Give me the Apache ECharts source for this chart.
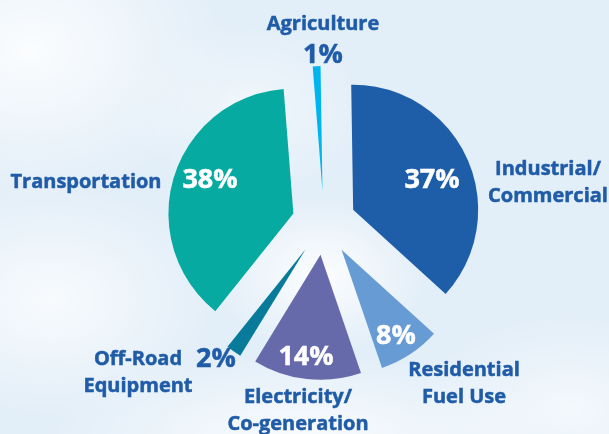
<!DOCTYPE html>
<html>
<head>
<meta charset="utf-8">
<script src="https://cdn.jsdelivr.net/npm/echarts@6/dist/echarts.min.js"></script>
<style>
  html, body { margin: 0; padding: 0; }
  body {
    width: 609px; height: 434px; overflow: hidden;
    background:
      radial-gradient(ellipse 200px 150px at 30px 50px, rgba(255,255,255,0.85), rgba(255,255,255,0)),
      radial-gradient(ellipse 170px 120px at 50px 300px, rgba(255,255,255,0.75), rgba(255,255,255,0)),
      radial-gradient(ellipse 110px 80px at 320px 275px, rgba(255,255,255,0.9), rgba(255,255,255,0)),
      radial-gradient(ellipse 260px 90px at 300px 440px, rgba(255,255,255,0.8), rgba(255,255,255,0)),
      radial-gradient(ellipse 160px 100px at 570px 410px, rgba(255,255,255,0.6), rgba(255,255,255,0)),
      radial-gradient(ellipse 120px 90px at 250px 110px, rgba(255,255,255,0.5), rgba(255,255,255,0)),
      #e2eef8;
  }
  #chart { width: 609px; height: 434px; }
</style>
</head>
<body>
<div id="chart"></div>
<script>
// data, clockwise from the top
const categories = ['Agriculture', 'Industrial/\nCommercial', 'Residential\nFuel Use', 'Electricity/\nCo-generation', 'Off-Road\nEquipment', 'Transportation']
const values = [1, 37, 8, 14, 2, 38]
const colors = ['#00b5ee', '#1e5ea9', '#679bd3', '#6669aa', '#087b9b', '#07aaa1']

// where the texts go: [nameX, nameY, percentX, percentY, percent inside the slice?]
const textPos = [
  [323, 24, 323, 55, false],
  [548, 183, 432, 180, true],
  [464, 384, 396, 336, true],
  [298, 411, 306, 357, true],
  [138, 373, 216, 359, false],
  [86, 182, 210, 180, true]
]

const chart = echarts.init(document.getElementById('chart'))

const nameColor = '#1f5ba7'
const graphics = []
categories.forEach((name, i) => {
  const p = textPos[i]
  graphics.push({
    type: 'text',
    silent: true,
    z: 100,
    style: {
      text: name,
      x: p[0],
      y: p[1],
      fill: nameColor,
      stroke: nameColor,
      lineWidth: 0.5,
      font: 'bold 20px "Open Sans"',
      lineHeight: 27,
      textAlign: 'center',
      textVerticalAlign: 'middle'
    }
  })
  const pctColor = p[4] ? '#ffffff' : nameColor
  graphics.push({
    type: 'text',
    silent: true,
    z: 100,
    style: {
      text: values[i] + '%',
      x: p[2],
      y: p[3],
      fill: pctColor,
      stroke: pctColor,
      lineWidth: 0.5,
      font: 'bold 27px "Open Sans"',
      textAlign: 'center',
      textVerticalAlign: 'middle'
    }
  })
})

const option = {
  animation: false,
  backgroundColor: 'transparent',
  graphic: graphics,
  series: [
    {
      type: 'pie',
      z: 2,
      center: [324, 223],
      radius: 125,
      startAngle: 94.5,
      clockwise: true,
      selectedMode: 'multiple',
      selectedOffset: 32,
      avoidLabelOverlap: false,
      label: { show: false },
      labelLine: { show: false },
      emphasis: { scale: false },
      select: { itemStyle: { borderWidth: 0 } },
      itemStyle: { borderWidth: 0 },
      data: categories.map((name, i) => ({
        name: name,
        value: values[i],
        selected: true,
        itemStyle: { color: colors[i] },
        select: { itemStyle: { color: colors[i], borderWidth: 0 } }
      }))
    }
  ]
}
chart.setOption(option)
</script>
</body>
</html>
